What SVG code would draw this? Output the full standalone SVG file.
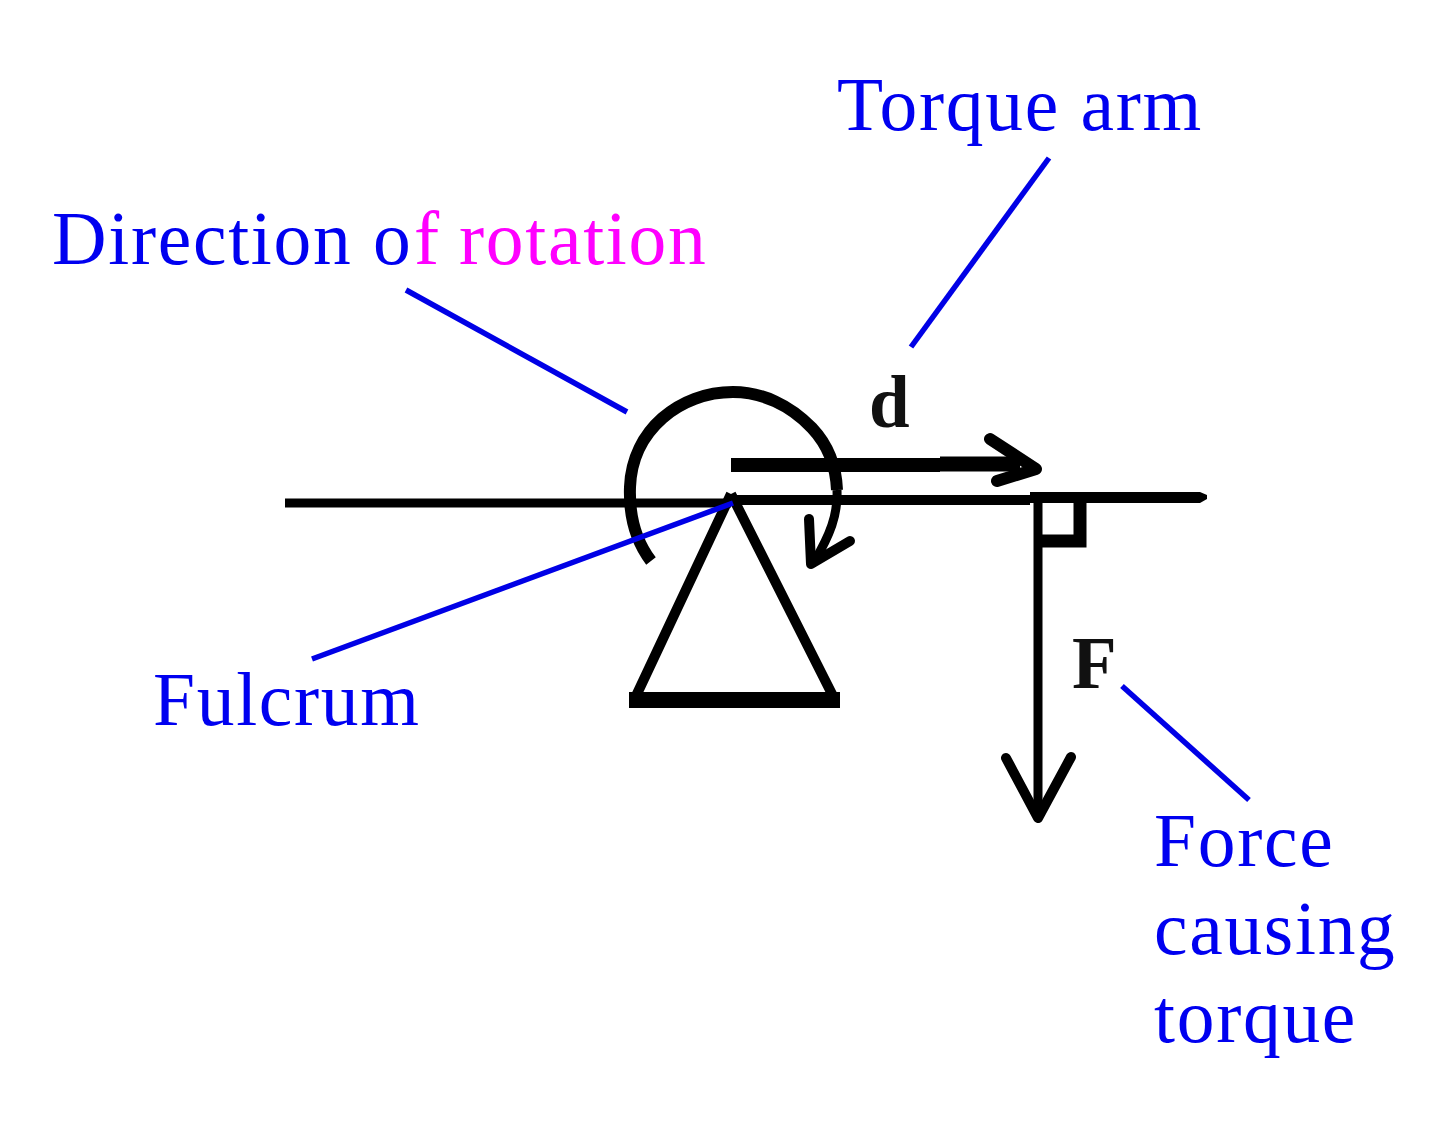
<svg xmlns="http://www.w3.org/2000/svg" width="1440" height="1123" viewBox="0 0 1440 1123">
<style>
.t{font-family:"Liberation Serif","Times New Roman",serif;font-size:75.500px;letter-spacing:1.700px;fill:#0000f0}
.b{font-family:"Liberation Serif","Times New Roman",serif;font-size:73px;font-weight:bold;fill:#111}
.k{fill:none;stroke:#000;stroke-linecap:butt;stroke-linejoin:miter}
.r{fill:none;stroke:#000;stroke-linecap:round;stroke-linejoin:round}
.l{fill:none;stroke:#0000e6;stroke-width:5.500}
</style>
<rect width="1440" height="1123" fill="#fff"/>
<g id="diagram">
<g id="beam"><path class="k" stroke-width="9" d="M285 503H731"/><path class="k" stroke-width="10" d="M731 500H1030"/><path d="M1030 492H1200L1207 495V499L1200 503H1030Z" fill="#000"/></g>
<g id="fulcrum"><path class="k" stroke-width="10" d="M731 494L636 696M731 494L833 696"/><path class="k" stroke-width="16" d="M629 700H840"/></g>
<g id="rotation"><path class="k" stroke-width="12" d="M651 561C635 540 629 515 630 487C632 430 680 392 733 392C762 392 790 405 812 428C828 445 836 465 837 490"/><path class="k" stroke-width="9" d="M837 490C838 515 830 535 814 562"/><path class="r" stroke-width="10" d="M809 519L811 564L850 541"/></g>
<g id="arm"><path class="k" stroke-width="14" d="M731 465H940"/><path class="k" stroke-width="15" d="M940 464H1020"/><path class="r" stroke-width="12" d="M990 439L1036 469L997 481"/></g>
<g id="force"><path class="k" stroke-width="9" d="M1038 498V815"/><path class="r" stroke-width="10" d="M1006 758L1038 818L1071 757"/><path class="k" stroke-width="13" d="M1040 541H1080V500"/></g>
<text class="b" x="869" y="427">d</text>
<text class="b" x="1072" y="688">F</text>
</g>
<g id="connectors">
<path class="l" d="M406 290L627 412"/>
<path class="l" d="M1049 158L911 347"/>
<path class="l" d="M733 503L312 659"/>
<path class="l" d="M1122 686L1249 800"/>
</g>
<g id="labels">
<text class="t" x="837" y="130">Torque arm</text>
<text class="t" x="52" y="264">Direction <tspan x="373">o</tspan><tspan x="414" fill="#ff00ff">f </tspan><tspan x="459" fill="#ff00ff">rotation</tspan></text>
<text class="t" x="153" y="725">Fulcrum</text>
<text class="t" x="1154" y="866">Force</text>
<text class="t" x="1154" y="954">causing</text>
<text class="t" x="1154" y="1042">torque</text>
</g>
</svg>
